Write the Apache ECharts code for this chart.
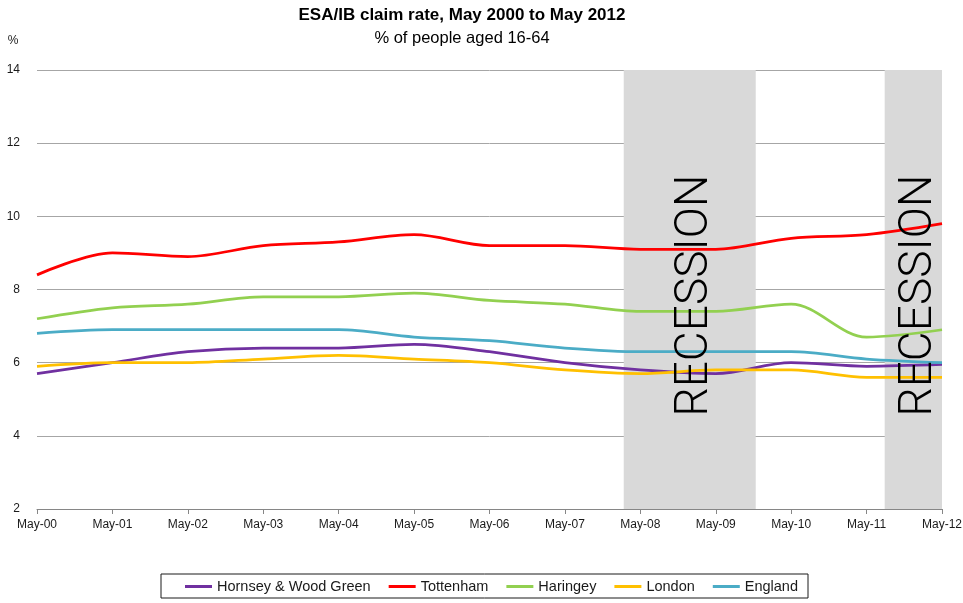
<!DOCTYPE html>
<html>
<head>
<meta charset="utf-8">
<title>ESA/IB claim rate</title>
<script src="https://cdn.jsdelivr.net/npm/echarts@6/dist/echarts.min.js"></script>
<style>
  html, body { margin: 0; padding: 0; background: #ffffff; }
  #chart { width: 963px; height: 603px; }
</style>
</head>
<body>
<div id="chart"></div>
<script>
// Category labels along the time axis (each May, 2000-2012)
const categories = ['May-00', 'May-01', 'May-02', 'May-03', 'May-04', 'May-05', 'May-06',
                    'May-07', 'May-08', 'May-09', 'May-10', 'May-11', 'May-12'];

// ESA/IB claim rate, % of people aged 16-64
const hornseyWoodGreen = [5.7, 6.0, 6.3, 6.4, 6.4, 6.5, 6.3, 6.0, 5.8, 5.7, 6.0, 5.9, 5.95];
const tottenham        = [8.4, 9.0, 8.9, 9.2, 9.3, 9.5, 9.2, 9.2, 9.1, 9.1, 9.4, 9.5, 9.8];
const haringey         = [7.2, 7.5, 7.6, 7.8, 7.8, 7.9, 7.7, 7.6, 7.4, 7.4, 7.6, 6.7, 6.9];
const london           = [5.9, 6.0, 6.0, 6.1, 6.2, 6.1, 6.0, 5.8, 5.7, 5.8, 5.8, 5.6, 5.6];
const england          = [6.8, 6.9, 6.9, 6.9, 6.9, 6.7, 6.6, 6.4, 6.3, 6.3, 6.3, 6.1, 6.0];

// Recession periods, as start/end positions on the category index scale
const recessions = [[7.78, 9.53], [11.24, 12.07]];

// Y axis range and step
const yMin = 2, yMax = 14, yStep = 2;

const seriesDefs = [
  { name: 'Hornsey & Wood Green', values: hornseyWoodGreen, color: '#7030A0' },
  { name: 'Tottenham',            values: tottenham,        color: '#FF0000' },
  { name: 'Haringey',             values: haringey,         color: '#92D050' },
  { name: 'London',               values: london,           color: '#FFC000' },
  { name: 'England',              values: england,          color: '#4BACC6' }
];

const labelFont = '"Liberation Sans", Arial, sans-serif';

const lineSeries = seriesDefs.map(function (d, i) {
  const s = {
    name: d.name,
    type: 'line',
    data: d.values.map(function (v, k) { return [k, v]; }),
    smooth: 0.33,
    showSymbol: false,
    symbol: 'none',
    color: d.color,
    lineStyle: { color: d.color, width: 2.75 },
    z: 2
  };
  if (i === 0) {
    // shaded recession bands, drawn beneath the lines
    s.markArea = {
      silent: true,
      z: 1,
      itemStyle: { color: '#D9D9D9' },
      label: { show: false },
      data: recessions.map(function (r) { return [{ xAxis: r[0] }, { xAxis: r[1] }]; })
    };
  }
  return s;
});

// "RECESSION" captions sit above the lines
const captionSeries = {
  name: 'recession-captions',
  type: 'line',
  data: [],
  silent: true,
  markArea: {
    silent: true,
    z: 5,
    itemStyle: { color: 'rgba(0,0,0,0)' },
    label: {
      show: true,
      position: 'inside',
      rotate: 90,
      offset: [-6, 6],
      color: '#000000',
      fontFamily: 'Roboto, "Liberation Sans", sans-serif',
      fontWeight: 300,
      fontSize: 46,
      formatter: 'RECESSION'
    },
    data: recessions.map(function (r) { return [{ xAxis: r[0] }, { xAxis: r[1] }]; })
  }
};

const chart = echarts.init(document.getElementById('chart'), null, { renderer: 'canvas' });

chart.setOption({
  animation: false,
  backgroundColor: '#ffffff',
  grid: {
    left: 37, right: 21, top: 70, bottom: 94,
    containLabel: false,
    outerBoundsMode: 'none'
  },
  graphic: [
    {
      type: 'text', x: 462, y: 15,
      style: {
        text: 'ESA/IB claim rate, May 2000 to May 2012',
        fill: '#000000',
        font: 'bold 17px "Liberation Sans", Arial, sans-serif',
        align: 'center', verticalAlign: 'middle',
        textAlign: 'center', textVerticalAlign: 'middle'
      }
    },
    {
      type: 'text', x: 462, y: 38,
      style: {
        text: '% of people aged 16-64',
        fill: '#000000',
        font: '16.5px "Liberation Sans", Arial, sans-serif',
        align: 'center', verticalAlign: 'middle',
        textAlign: 'center', textVerticalAlign: 'middle'
      }
    },
    {
      type: 'text', x: 13, y: 41,
      style: {
        text: '%',
        fill: '#1a1a1a',
        font: '12px "Liberation Sans", Arial, sans-serif',
        align: 'center', verticalAlign: 'middle',
        textAlign: 'center', textVerticalAlign: 'middle'
      }
    }
  ],
  legend: {
    data: seriesDefs.map(function (d) { return d.name; }),
    left: 161,
    top: 574,
    orient: 'horizontal',
    icon: 'rect',
    itemWidth: 27,
    itemHeight: 3,
    itemGap: 18,
    padding: [5, 10, 4, 24],
    borderColor: '#1a1a1a',
    borderWidth: 1,
    selectedMode: false,
    textStyle: { fontFamily: labelFont, fontSize: 14.5, color: '#1a1a1a' }
  },
  xAxis: {
    type: 'value',
    min: 0,
    max: categories.length - 1,
    interval: 1,
    axisLine: { show: true, lineStyle: { color: '#868686', width: 1 } },
    axisTick: { show: true, length: 5, lineStyle: { color: '#868686' } },
    splitLine: { show: false },
    axisLabel: {
      margin: 10,
      color: '#1a1a1a',
      fontFamily: labelFont,
      fontSize: 12,
      formatter: function (v) { return categories[v] || ''; }
    }
  },
  yAxis: {
    type: 'value',
    min: yMin,
    max: yMax,
    interval: yStep,
    axisLine: { show: false },
    axisTick: { show: false },
    splitLine: { show: true, lineStyle: { color: '#A6A6A6', width: 1 } },
    axisLabel: {
      margin: 17,
      color: '#1a1a1a',
      fontFamily: labelFont,
      fontSize: 12
    }
  },
  series: lineSeries.concat([captionSeries])
});
</script>
</body>
</html>
